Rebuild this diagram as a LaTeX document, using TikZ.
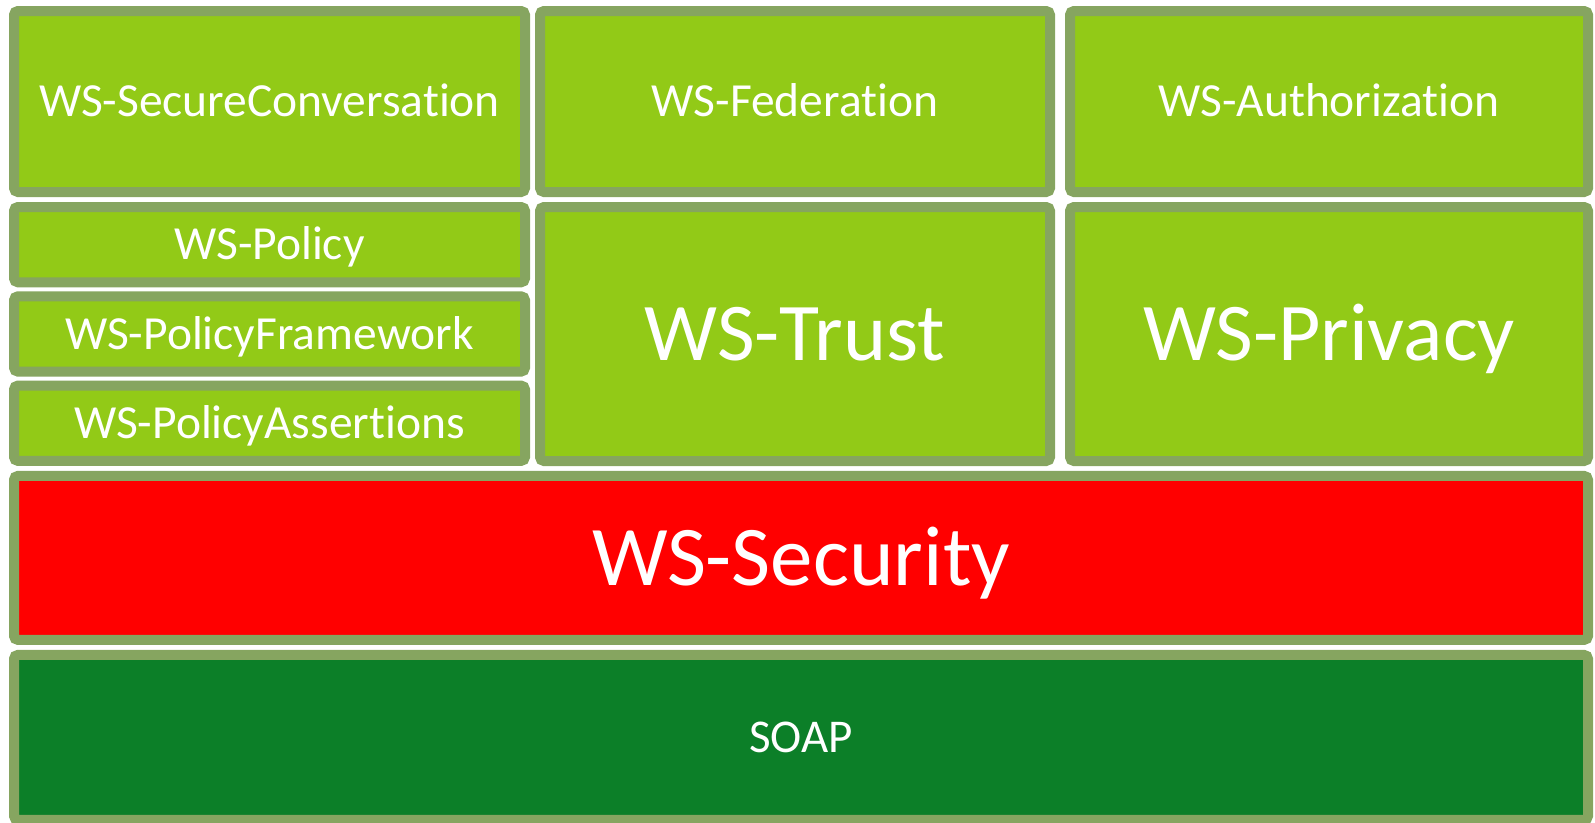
\documentclass[tikz,border=0pt]{standalone}
\usepackage{fontspec}
\setmainfont{Carlito}[Ligatures=NoCommon]
\usetikzlibrary{positioning,shadows}
\definecolor{leaf}{RGB}{146,202,23}
\definecolor{edge}{RGB}{134,165,96}
\definecolor{alert}{RGB}{255,0,0}
\definecolor{base}{RGB}{12,127,40}

\begin{document}
\begin{tikzpicture}[x=1pt, y=-1pt,
				layer/.style={rectangle, draw=edge, line width=10pt, rounded corners=4pt, outer sep=0pt, text=white,
					text depth=0pt,
					drop shadow={opacity=0.3, shadow xshift=0.5pt, shadow yshift=-2pt}},
				spec/.style={layer, fill=leaf, font=\fontsize{47.5}{50}\selectfont, text height=30.6pt},
				bigspec/.style={layer, fill=leaf, font=\fontsize{82}{88}\selectfont, text height=52.8pt}
			]
			\useasboundingbox (0,0) rectangle (1595,822);
			% top row
			\node[spec, minimum width=511pt, minimum height=181pt, anchor=north west] (secconv) at (14,11) {WS-SecureConversation};
			\node[spec, minimum width=510pt, minimum height=181pt] (federation) [right=15pt of secconv] {WS-Federation};
			\node[spec, minimum width=518pt, minimum height=181pt] (authz) [right=20pt of federation] {WS-Authorization};
			% policy stack
			\node[spec, minimum width=511pt, minimum height=75.3pt] (policy) [below=15pt of secconv] {WS-Policy};
			\node[spec, minimum width=511pt, minimum height=75.3pt] (policyfw) [below=14pt of policy] {WS-PolicyFramework};
			\node[spec, minimum width=511pt, minimum height=75.3pt] (policyassert) [below=14pt of policyfw] {WS-PolicyAssertions};
			\node[bigspec, minimum width=510pt, minimum height=254pt] (trust) [below=15pt of federation] {WS-Trust};
			\node[bigspec, minimum width=518pt, minimum height=254pt] (privacy) [below=15pt of authz] {WS-Privacy};
			% bottom layers
			\node[layer, fill=alert, font=\fontsize{85}{90}\selectfont, text height=54.7pt, minimum width=1574pt, minimum height=164pt]
				(security) [below=15pt of policyassert.south west, anchor=north west] {WS-Security};
			\node[layer, fill=base, font=\fontsize{47}{50}\selectfont, text height=30.3pt, minimum width=1574pt, minimum height=165pt]
				(soap) [below=15pt of security] {SOAP};
			\end{tikzpicture}
\end{document}
